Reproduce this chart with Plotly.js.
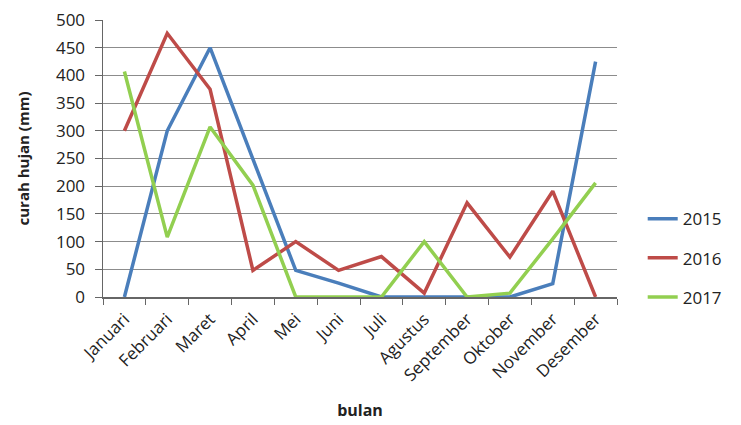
<!DOCTYPE html>
<html>
<head>
<meta charset="utf-8">
<script src="https://cdn.plot.ly/plotly-3.0.1.min.js"></script>
<style>html,body{margin:0;padding:0;background:#fff}#chart{width:741px;height:425px}</style>
</head>
<body>
<div id="chart"></div>
<script>
const months = ["Januari","Februari","Maret","April","Mei","Juni","Juli","Agustus","September","Oktober","November","Desember"];
const y2015 = [0, 300, 450, 250, 48, 25, 0, 0, 0, 0, 24, 425];
const y2016 = [300, 476, 375, 48, 100, 48, 73, 7, 170, 72, 191, 0];
const y2017 = [407, 108, 307, 202, 0, 0, 0, 100, 0, 7, 105, 206];
const yTicks = [0, 50, 100, 150, 200, 250, 300, 350, 400, 450, 500];

const font = "Open Sans, Liberation Sans, sans-serif";
function tr(name, y, color, g) {
  return {x: months, y: y, name: name, type: "scatter", mode: "lines",
    line: {color: color, width: 3.5}, legendgroup: g};
}
const data = [
  tr("2015", y2015, "#4a7ebb", "a"),
  tr("2016", y2016, "#be4b48", "b"),
  tr("2017", y2017, "#92cf50", "c")
];
const layout = {
  width: 741, height: 425,
  margin: {l: 103, r: 124, t: 20, b: 128, autoexpand: false},
  paper_bgcolor: "#fff", plot_bgcolor: "#fff",
  font: {family: font, size: 17, color: "#222"},
  showlegend: true,
  legend: {x: 1.05, xanchor: "left", y: 0.14, yanchor: "middle",
    font: {size: 17, color: "#222"}, tracegroupgap: 14, traceorder: "grouped",
    bgcolor: "rgba(0,0,0,0)"},
  xaxis: {
    type: "category", range: [-0.5, 11.5], tickangle: -45, tickson: "boundaries",
    ticks: "outside", ticklen: 6, tickcolor: "#666",
    showline: true, linecolor: "#666", linewidth: 1.5,
    showgrid: false, zeroline: false, ticklabelstandoff: 4,
    tickfont: {size: 17, color: "#222"},
    title: {text: "<b>bulan</b>", font: {size: 16, color: "#222"}, standoff: 20}
  },
  yaxis: {
    range: [0, 500], tickvals: yTicks, ticktext: yTicks.map(String),
    ticks: "outside", ticklen: 7, tickcolor: "#666",
    showline: true, linecolor: "#666", linewidth: 1.5,
    showgrid: true, gridcolor: "#8c8c8c", gridwidth: 1, zeroline: false,
    ticklabelstandoff: 6,
    tickfont: {size: 17, color: "#222"},
    title: {text: "<b>curah hujan (mm)</b>", font: {size: 15, color: "#222"}, standoff: 22}
  }
};
Plotly.newPlot("chart", data, layout, {displayModeBar: false, staticPlot: true});
</script>
</body>
</html>
